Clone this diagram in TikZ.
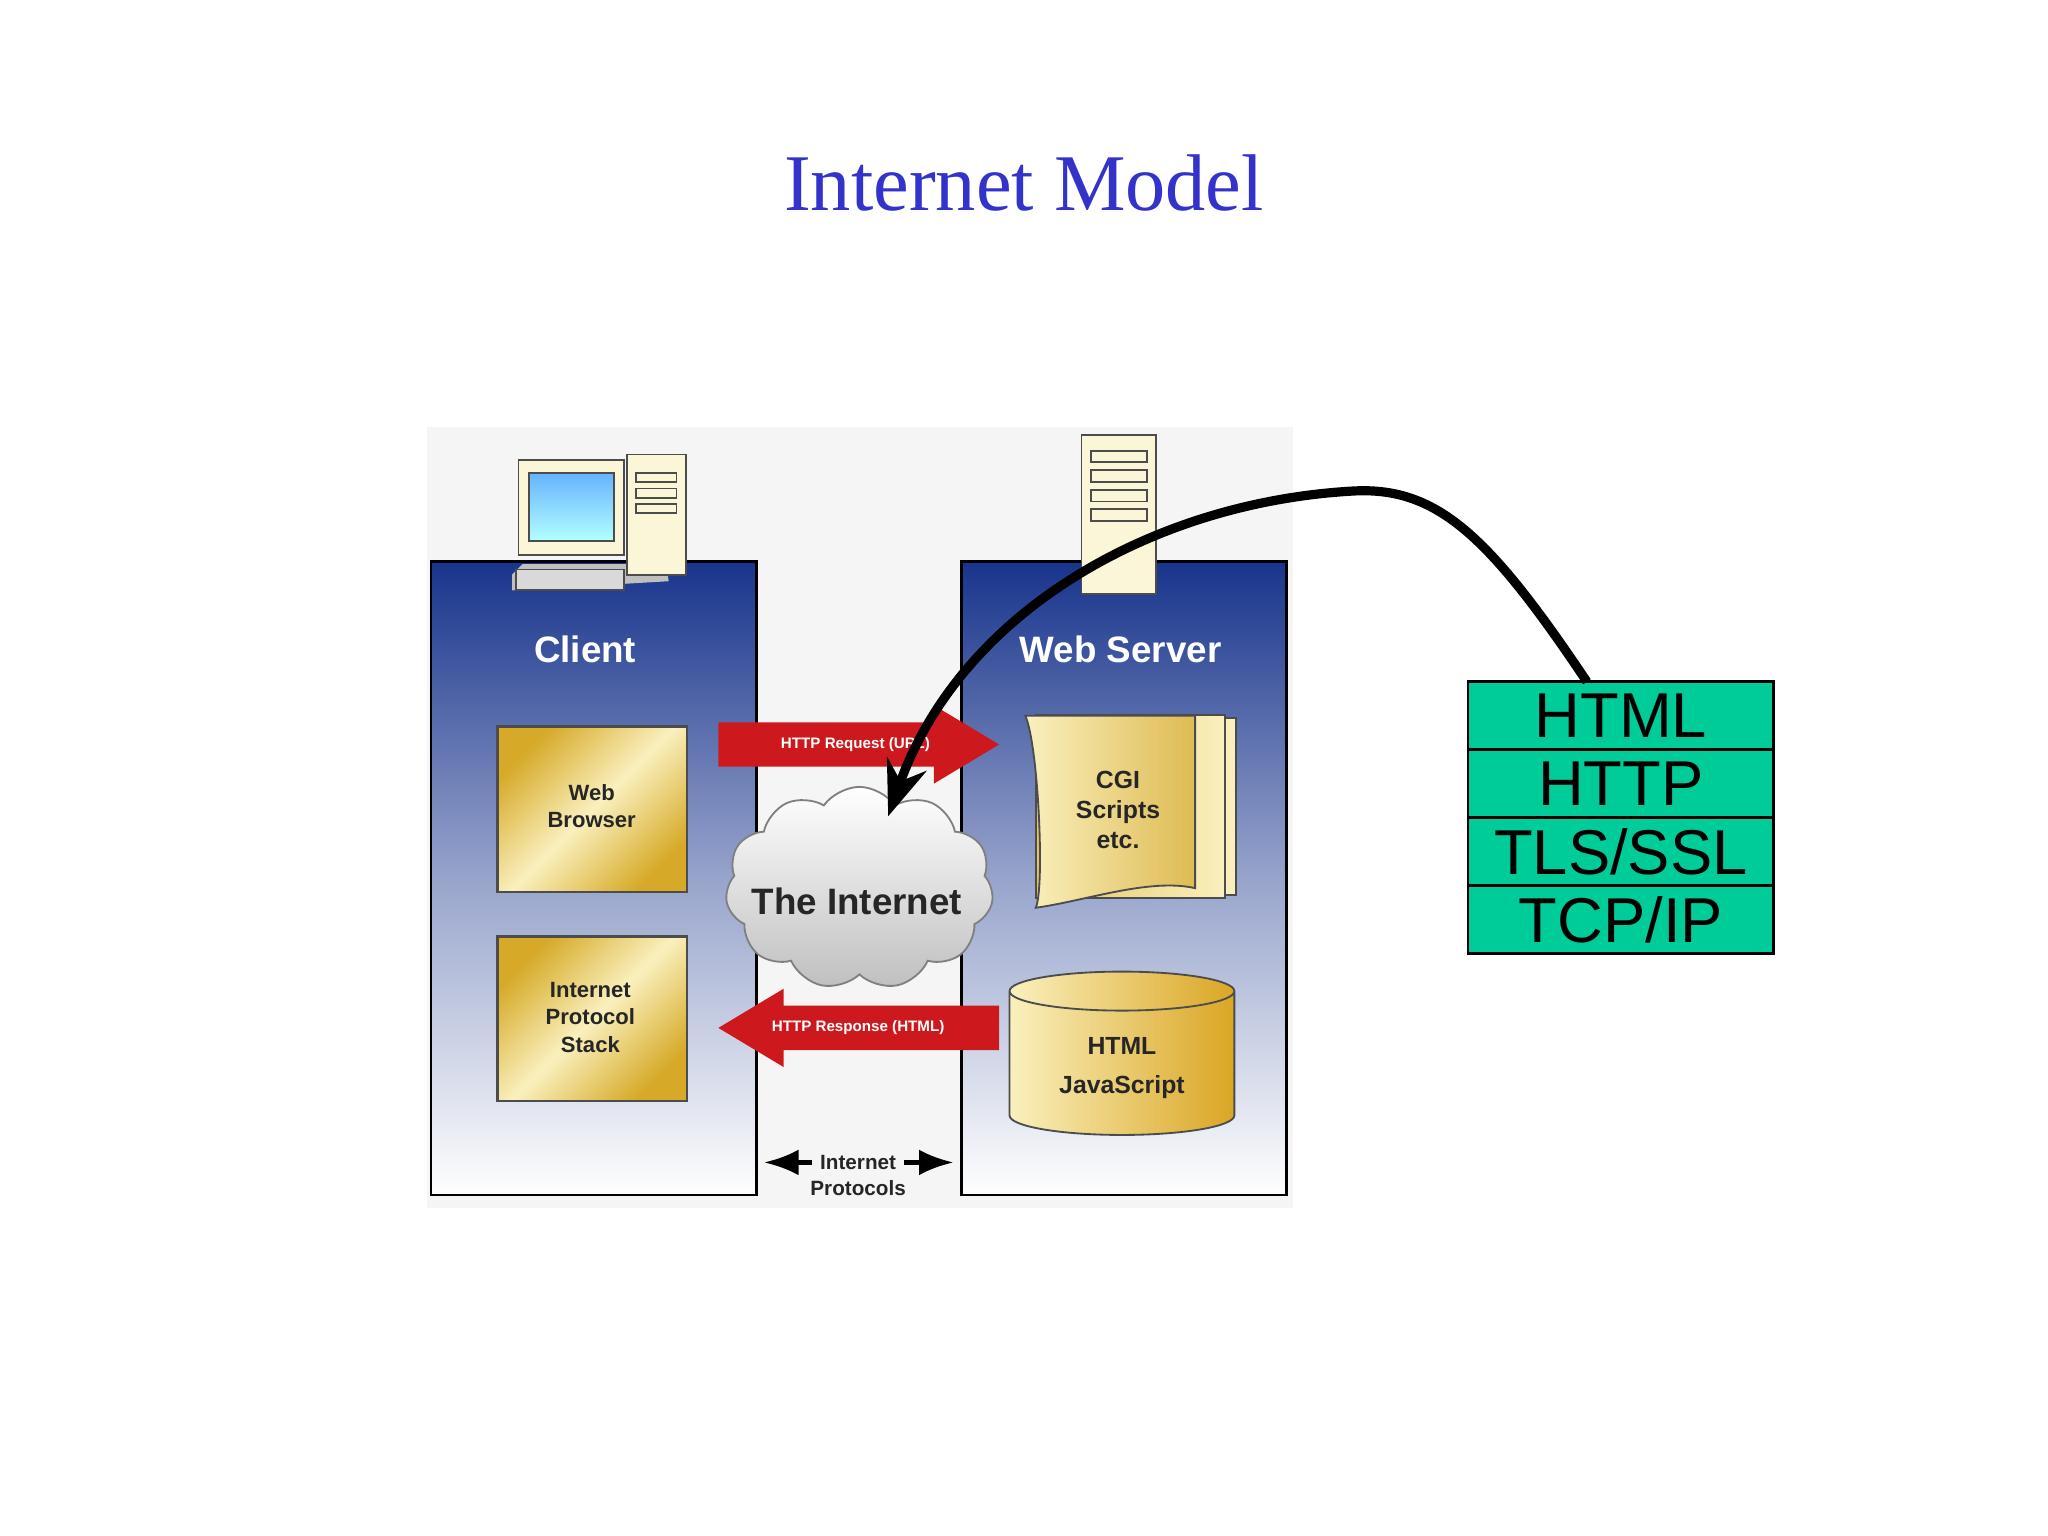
\documentclass[tikz,border=0pt]{standalone}
\usepackage{fontspec}
\setmainfont{Liberation Serif}
\setsansfont{Liberation Sans}
\usetikzlibrary{shapes.symbols,shapes.geometric,arrows.meta}
\definecolor{titleblue}{RGB}{51,51,204}
\definecolor{panelblue}{RGB}{24,52,140}
\definecolor{gold}{RGB}{214,170,40}
\definecolor{lgold}{RGB}{250,240,190}
\definecolor{redarr}{RGB}{205,25,30}
\definecolor{stackgreen}{RGB}{0,204,153}
\tikzset{
 panel/.style={draw=black,line width=0.6pt,top color=panelblue,bottom color=white,middle color=panelblue!45},
 goldbox/.style={draw=black!70,line width=0.6pt,left color=gold,right color=gold,middle color=lgold,shading angle=45},
 small/.style={font=\sffamily\bfseries\fontsize{4.8}{5.9}\selectfont,align=center,text=black!85},
 arrlabel/.style={font=\sffamily\bfseries\fontsize{3.3}{4}\selectfont,text=white},
 stackrow/.style={draw=black,line width=0.6pt,fill=stackgreen,minimum width=2.34cm,minimum height=0.52cm,inner sep=0pt,font=\sffamily\fontsize{13.8}{14}\selectfont},
}
\begin{document}
\begin{tikzpicture}[x=0.01cm,y=-0.01cm]
\useasboundingbox (0,0) rectangle (1568,1176);
\fill[white] (0,0) rectangle (1568,1176);
\node[font=\fontsize{17.5}{20}\selectfont,text=titleblue] (title) at (784,140) {Internet Model};
% background
\fill[black!4] (327,327) rectangle (990,925);
% panels
\shade[panel] (330,430) rectangle (579,915);
\shade[panel] (736,430) rectangle (985,915);
\node[font=\sffamily\bfseries\fontsize{8}{9}\selectfont,text=white] (client) at (448,497) {Client};
\node[font=\sffamily\bfseries\fontsize{8}{9}\selectfont,text=white] (server) at (858,497) {Web Server};
% client boxes
\shade[goldbox] (381,556) rectangle (526,683);
\node[small] (wb) at (453,617) {Web\\Browser};
\shade[goldbox] (381,717) rectangle (526,843);
\node[small] (ips) at (452,779) {Internet\\Protocol\\Stack};
% client computer
\fill[black!25] (392,440) -- (400,432) -- (510,432) -- (512,445) -- (392,452) -- cycle;
\draw[black!70,fill=lgold!60!white] (397,352) rectangle (478,425);
\shade[draw=black!70,top color=cyan!50!blue!60,bottom color=cyan!30] (405,362) rectangle (470,414);
\draw[black!70,fill=lgold!60!white] (480,348) rectangle (525,440);
\foreach \yy in {362,374,386} \draw[black!70] (487,\yy) rectangle (518,\yy+7);
\draw[black!70,fill=black!15] (395,436) rectangle (478,452);
% server tower
\draw[black!70,fill=lgold!60!white] (828,333) rectangle (885,455);
\foreach \yy in {345,360,375,390} \draw[black!70] (835,\yy) rectangle (878,\yy+9);
% red arrows
\fill[redarr] (550,553) -- (715,553) -- (715,540) -- (765,570) -- (715,600) -- (715,587) -- (550,587) -- cycle;
\node[arrlabel] (req) at (655,570) {HTTP Request (URL)};
\fill[redarr] (765,770) -- (600,770) -- (600,757) -- (550,787) -- (600,817) -- (600,804) -- (765,804) -- cycle;
\node[arrlabel] (resp) at (657,787) {HTTP Response (HTML)};
% cloud
\node[cloud,cloud puffs=11,cloud puff arc=110,aspect=1.5,draw=black!50,top color=white,bottom color=black!25,minimum width=2.05cm,minimum height=1.55cm] (cloud) at (658,680) {};
\node[font=\sffamily\bfseries\fontsize{8}{9}\selectfont,text=black!85] (inet) at (656,690) {The Internet};
% scroll
\foreach \d in {16,8} \shade[draw=black!70,left color=gold!70,right color=lgold] (785+\d,545+\d*0.3) rectangle (930+\d,690-\d*0.3);
\shade[draw=black!70,left color=lgold,right color=gold!80] (785,548) -- (915,548) -- (915,680) .. controls (880,672) and (830,690) .. (793,695) .. controls (800,680) and (795,570) .. (785,548) -- cycle;
\node[small,font=\sffamily\bfseries\fontsize{5.4}{6.6}\selectfont] (cgi) at (856,620) {CGI\\Scripts\\etc.};
% cylinder
\node[cylinder,shape border rotate=90,aspect=0.25,draw=black!70,left color=lgold,right color=gold!90!orange,minimum width=1.72cm,minimum height=1.25cm,small,font=\sffamily\bfseries\fontsize{5.4}{8.5}\selectfont] (cyl) at (859,818) {HTML\\JavaScript};
% internet protocols
\node[small,font=\sffamily\bfseries\fontsize{4.5}{5.8}\selectfont] (ip) at (657,900) {Internet\\Protocols};
\coordinate (ipl) at (585,890); \coordinate (ipr) at (730,890);
\draw[-{Latex},line width=1pt] (622,890) -- (ipl);
\draw[-{Latex},line width=1pt] (692,890) -- (ipr);
% stack
\node[stackrow] (html) at (1241,548) {HTML};
\node[stackrow] (http) at (1241,600) {HTTP};
\node[stackrow] (tls) at (1241,652) {TLS/SSL};
\node[stackrow] (tcp) at (1241,704) {TCP/IP};
% curved arrow
\coordinate (tip) at (680,625);
\coordinate (start) at (1215,522);
\draw[-{Stealth[length=12pt,width=9pt]},line width=2pt] (start) .. controls (1140,410) and (1100,372) .. (1035,376) .. controls (880,385) and (735,470) .. (tip);
\end{tikzpicture}
\end{document}
